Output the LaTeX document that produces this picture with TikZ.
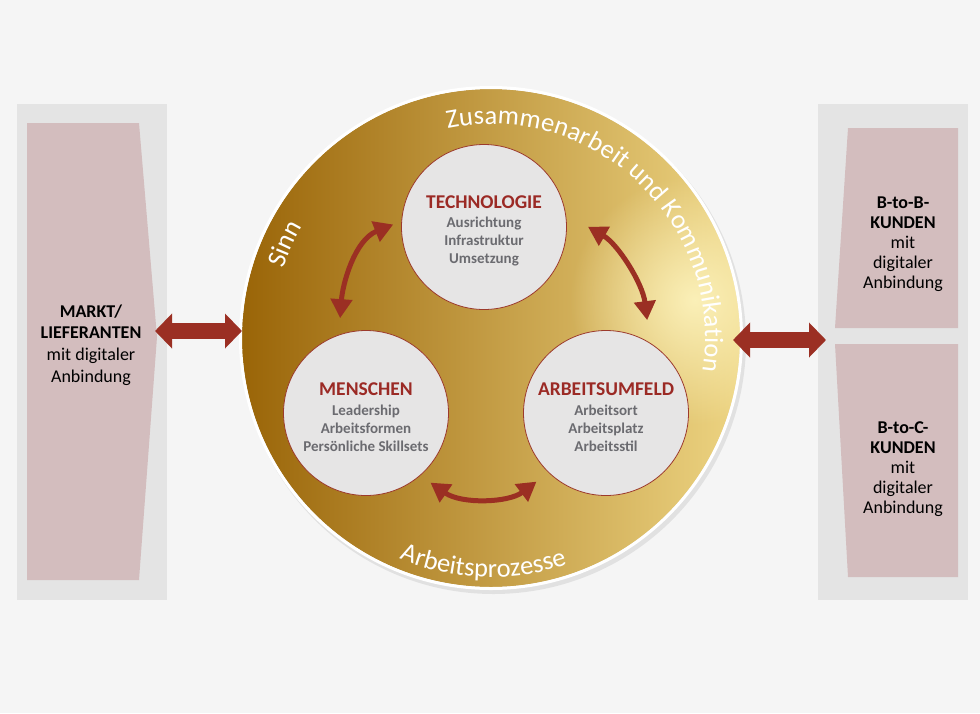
\documentclass[tikz,border=0pt]{standalone}
\usepackage{fontspec}
\setmainfont{Carlito}
\usetikzlibrary{arrows.meta,decorations.text,fadings}
\definecolor{bgcol}{HTML}{F5F5F5}
\definecolor{panelgray}{HTML}{E4E4E4}
\definecolor{panelpink}{HTML}{D3BDBE}
\definecolor{arrred}{HTML}{9B2F23}
\definecolor{titlered}{HTML}{9B2A25}
\definecolor{subgray}{HTML}{6B6B70}
\definecolor{cfill}{HTML}{E6E5E5}
\definecolor{cborder}{HTML}{9C3A2C}
\definecolor{golddark}{HTML}{9A6508}
\definecolor{goldmid}{HTML}{D2A846}
\definecolor{goldlight}{HTML}{EDD482}
\definecolor{goldglow}{HTML}{FBF0B8}
\tikzfading[name=glowfade, inner color=transparent!0, outer color=transparent!100]
\newcommand\ringfont{\fontsize{26.5}{30}\selectfont}
\begin{document}
\begin{tikzpicture}[x=1pt,y=1pt,
  panelbg/.style={fill=panelgray, draw=none},
  panelfg/.style={fill=panelpink, draw=none},
  paneltext/.style={align=center, font=\fontsize{18}{21.7}\selectfont, text=black, inner sep=0pt},
  paneltextr/.style={align=center, font=\fontsize{18}{20}\selectfont, text=black, inner sep=0pt},
  innercircle/.style={circle, fill=cfill, draw=cborder, line width=0.8pt, minimum size=165pt, inner sep=0pt},
  circtext/.style={align=center, font=\fontsize{15}{18}\selectfont\bfseries, text=subgray, inner sep=0pt},
  bigarrow/.style={draw=arrred, line width=16pt, {Triangle[width=34pt,length=17pt]}-{Triangle[width=34pt,length=17pt]}},
  cyclearrow/.style={draw=arrred, line width=5pt, {Triangle[width=21pt,length=19pt]}-{Triangle[width=21pt,length=19pt]}},
  ringdeco/.style={decorate, decoration={text along path, text color=white, text align=#1}}
]
% background
\fill[bgcol] (0,0) rectangle (980,-713);
\useasboundingbox (0,0) rectangle (980,-713);

% left panel
\fill[panelbg] (17,-104) rectangle (167,-600);
\fill[panelfg] (27,-123) -- (139,-123) -- (157,-337) -- (139,-580) -- (27,-580) -- cycle;
\node[paneltext] (markt) at (91,-345) {\textbf{MARKT/}\\\textbf{LIEFERANTEN}\\mit digitaler\\Anbindung};

% right panel
\fill[panelbg] (818,-104) rectangle (968,-600);
\fill[panelfg] (848,-128) -- (958,-128) -- (958,-328) -- (835,-328) -- cycle;
\fill[panelfg] (835,-344) -- (958,-344) -- (958,-577) -- (848,-577) -- cycle;
\node[paneltextr] (btob) at (903,-244) {\textbf{B-to-B-}\\\textbf{KUNDEN}\\mit\\digitaler\\Anbindung};
\node[paneltextr] (btoc) at (903,-469.5) {\textbf{B-to-C-}\\\textbf{KUNDEN}\\mit\\digitaler\\Anbindung};

% big circle
\coordinate (c) at (491,-338);
\fill[black, opacity=0.08] (493.5,-341.5) circle (252.5);
\shade[left color=golddark, middle color=goldmid, right color=goldlight] (c) circle (249);
\begin{scope}
  \clip (c) circle (249);
  \fill[goldglow, path fading=glowfade] (695,-300) circle (125);
\end{scope}
\draw[white, line width=3pt] (c) circle (250.5);

% ring texts
\begin{scope}[shift={(491,-338)}]
  \path[ringdeco={fit to path}, decoration={text={|\ringfont|Zusammenarbeit und Kommunikation}}]
    (101.7:214) arc[start angle=101.7, end angle=-9, radius=214];
  \path[ringdeco=center, decoration={text={|\ringfont|Sinn}}]
    (175:219) arc[start angle=175, end angle=136, radius=219];
  \path[ringdeco=center, decoration={text={|\ringfont|Arbeitsprozesse}}]
    (-132:239) arc[start angle=-132, end angle=-52, radius=239];
\end{scope}

% inner circles
\node[innercircle] (tech) at (484,-227) {};
\node[innercircle] (men) at (366,-413) {};
\node[innercircle] (arb) at (606,-413) {};
\node[circtext] (techtxt) at ([yshift=-4pt]tech.center) {{\fontsize{19.5}{21}\selectfont\color{titlered}TECHNOLOGIE}\\[1.5pt]Ausrichtung\\Infrastruktur\\Umsetzung};
\node[circtext] (mentxt) at ([yshift=-4pt]men.center) {{\fontsize{19.5}{21}\selectfont\color{titlered}MENSCHEN}\\[1.5pt]Leadership\\Arbeitsformen\\Persönliche Skillsets};
\node[circtext] (arbtxt) at ([yshift=-4pt]arb.center) {{\fontsize{19.5}{21}\selectfont\color{titlered}ARBEITSUMFELD}\\[1.5pt]Arbeitsort\\Arbeitsplatz\\Arbeitsstil};

% cycle arrows
\draw[cyclearrow, shorten <=16.5pt, shorten >=8.7pt] (men.109) to[out=86, in=202] (tech.176);
\draw[cyclearrow, shorten <=25.5pt, shorten >=22.7pt] (tech.9) to[out=-30, in=97] (arb.58);
\draw[cyclearrow, shorten <=12.3pt, shorten >=14.9pt] (men.-49) to[out=-35, in=217] (arb.226);

% big arrows
\coordinate (lpt) at (155,-331);
\coordinate (lct) at (242,-331);
\coordinate (rct) at (733,-340);
\coordinate (rpt) at (826,-340);
\draw[bigarrow] (lpt) -- (lct);
\draw[bigarrow] (rct) -- (rpt);
\end{tikzpicture}
\end{document}
